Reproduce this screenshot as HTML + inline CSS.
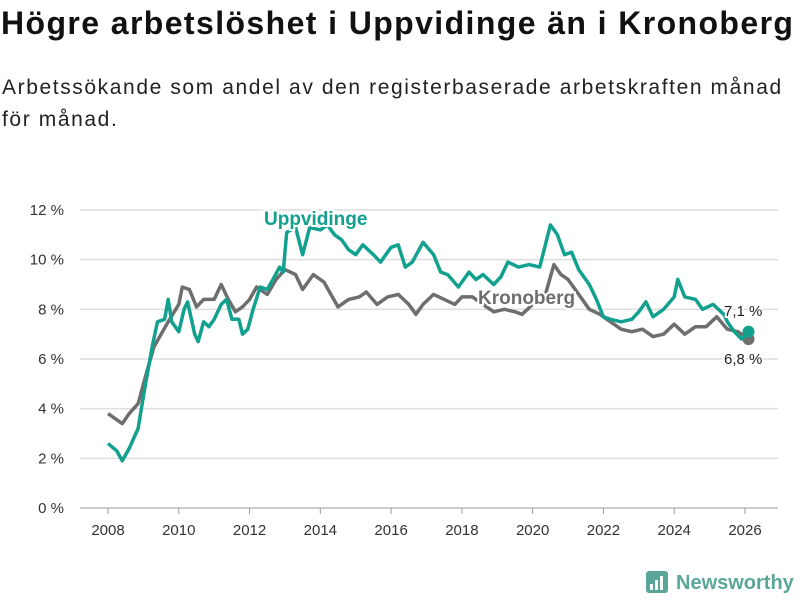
<!DOCTYPE html>
<html><head><meta charset="utf-8"><style>
body{margin:0;width:800px;height:600px;background:#fff;font-family:"Liberation Sans",sans-serif;overflow:hidden;position:relative}
h1{position:absolute;left:1px;top:5px;margin:0;font-size:32px;font-weight:bold;color:#111;letter-spacing:1.4px;white-space:nowrap}
p{position:absolute;left:2px;top:72px;margin:0;font-size:21px;line-height:32px;color:#222;width:798px;letter-spacing:1.6px;white-space:nowrap}
svg{position:absolute;left:0;top:0}
</style></head><body>
<h1>Högre arbetslöshet i Uppvidinge än i Kronoberg</h1>
<p>Arbetssökande som andel av den registerbaserade arbetskraften månad<br>för månad.</p>
<svg id="c" width="800" height="600"></svg>
<script>
const yTicks=[0,2,4,6,8,10,12];
const xTicks=[2008,2010,2012,2014,2016,2018,2020,2022,2024,2026];
const uppYears=[2008.0,2008.25,2008.4,2008.6,2008.85,2009.0,2009.25,2009.4,2009.6,2009.7,2009.8,2010.0,2010.15,2010.25,2010.45,2010.55,2010.7,2010.85,2011.0,2011.2,2011.35,2011.5,2011.7,2011.8,2011.95,2012.1,2012.3,2012.5,2012.7,2012.85,2012.95,2013.05,2013.3,2013.5,2013.7,2014.0,2014.2,2014.4,2014.6,2014.8,2015.0,2015.2,2015.5,2015.7,2016.0,2016.2,2016.4,2016.6,2016.9,2017.2,2017.4,2017.6,2017.9,2018.2,2018.4,2018.6,2018.9,2019.1,2019.3,2019.6,2019.9,2020.2,2020.5,2020.7,2020.9,2021.1,2021.3,2021.6,2021.8,2022.0,2022.2,2022.5,2022.8,2023.0,2023.2,2023.4,2023.7,2024.0,2024.1,2024.3,2024.6,2024.8,2025.1,2025.4,2025.5,2025.7,2025.9,2026.1];
const uppValues=[2.6,2.3,1.9,2.4,3.2,4.5,6.5,7.5,7.6,8.4,7.5,7.1,8.0,8.3,7.0,6.7,7.5,7.3,7.6,8.2,8.4,7.6,7.6,7.0,7.2,8.0,8.9,8.8,9.3,9.7,9.5,11.1,11.3,10.2,11.3,11.2,11.4,11.0,10.8,10.4,10.2,10.6,10.2,9.9,10.5,10.6,9.7,9.9,10.7,10.2,9.5,9.4,8.9,9.5,9.2,9.4,9.0,9.3,9.9,9.7,9.8,9.7,11.4,11.0,10.2,10.3,9.6,9.0,8.4,7.7,7.6,7.5,7.6,7.9,8.3,7.7,8.0,8.5,9.2,8.5,8.4,8.0,8.2,7.8,7.5,7.1,6.8,7.1];
const kroYears=[2008.0,2008.2,2008.4,2008.6,2008.85,2009.1,2009.3,2009.5,2009.7,2010.0,2010.1,2010.3,2010.5,2010.7,2011.0,2011.2,2011.4,2011.6,2011.8,2012.0,2012.2,2012.5,2012.75,2013.0,2013.3,2013.5,2013.8,2014.1,2014.3,2014.5,2014.8,2015.1,2015.3,2015.6,2015.9,2016.2,2016.5,2016.7,2016.9,2017.2,2017.5,2017.8,2018.0,2018.3,2018.6,2018.9,2019.2,2019.5,2019.7,2020.0,2020.3,2020.6,2020.8,2021.0,2021.3,2021.6,2021.9,2022.2,2022.5,2022.8,2023.1,2023.4,2023.7,2024.0,2024.3,2024.6,2024.9,2025.2,2025.5,2025.8,2026.1];
const kroValues=[3.8,3.6,3.4,3.8,4.2,5.5,6.5,7.0,7.5,8.2,8.9,8.8,8.1,8.4,8.4,9.0,8.4,7.9,8.1,8.4,8.9,8.6,9.2,9.6,9.4,8.8,9.4,9.1,8.6,8.1,8.4,8.5,8.7,8.2,8.5,8.6,8.2,7.8,8.2,8.6,8.4,8.2,8.5,8.5,8.2,7.9,8.0,7.9,7.8,8.2,8.3,9.8,9.4,9.2,8.6,8.0,7.8,7.5,7.2,7.1,7.2,6.9,7.0,7.4,7.0,7.3,7.3,7.7,7.2,7.1,6.8];
const svg=document.getElementById('c');const NS='http://www.w3.org/2000/svg';
const X=y=>108+(y-2008)*(745-108)/18;const Y=v=>508-v*(508-210)/12;
function mk(t,a,p){const e=document.createElementNS(NS,t);for(const k in a)e.setAttribute(k,a[k]);(p||svg).appendChild(e);return e;}
yTicks.forEach(v=>{
 const l=mk('line',{x1:80,x2:778,y1:Y(v),y2:Y(v),stroke:v===0?'#bbb':'#ddd','stroke-width':1.5});
 
 
 const t=mk('text',{x:64,y:Y(v)+5,'text-anchor':'end','font-size':15,fill:'#333'});t.textContent=v+' %';
 
 
});
xTicks.forEach(yr=>{
 const l=mk('line',{x1:X(yr),x2:X(yr),y1:508,y2:514,stroke:'#999'});
 
 
 const t=mk('text',{x:X(yr),y:535,'text-anchor':'middle','font-size':15,fill:'#333'});t.textContent=yr;
 
 
});
function line(xs,vs,col,name){
 const d=xs.map((x,i)=>(i?'L':'M')+X(x).toFixed(1)+','+Y(vs[i]).toFixed(1)).join('');
 const p=mk('path',{d:d,fill:'none',stroke:col,'stroke-width':3.5,'stroke-linejoin':'round'});
 
 
 const n=xs.length-1;
 const c=mk('circle',{cx:X(xs[n]),cy:Y(vs[n]),r:6,fill:col});
 
 
}
line(kroYears,kroValues,'#6e6e6e','kronoberg-line');
line(uppYears,uppValues,'#12a08f','uppvidinge-line');
function lbl(x,y,s,col,size,w,name){
 const t=mk('text',{x:x,y:y,'font-size':size,'font-weight':w,fill:col,stroke:'#fff','stroke-width':4,'paint-order':'stroke'});t.textContent=s;
 
 
}
lbl(264,225,'Uppvidinge','#12a08f',19,'bold','uppvidinge-label');
lbl(478,304,'Kronoberg','#6e6e6e',19,'bold','kronoberg-label');
lbl(724,316,'7,1 %','#222',15,'normal','uppvidinge-end-value');
lbl(724,364,'6,8 %','#222',15,'normal','kronoberg-end-value');
const g=mk('g',{});


mk('rect',{x:646,y:571,width:22,height:22,rx:3,fill:'#5aa79a'},g);
[[650,584,3,6],[655,580,3,10],[660,576,3,14]].forEach(b=>mk('rect',{x:b[0],y:b[1],width:b[2],height:b[3],fill:'#fff'},g));
const lt=mk('text',{x:676,y:589,'font-size':20,'font-weight':'bold',fill:'#5aa79a'},g);lt.textContent='Newsworthy';
</script>
</body></html>
